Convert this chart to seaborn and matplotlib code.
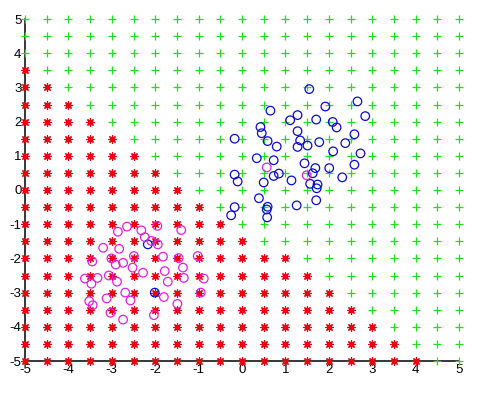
import numpy as np
import pandas as pd
import matplotlib
matplotlib.use("Agg")
import matplotlib.pyplot as plt
import seaborn as sns

# grid of test points, -5..5 in steps of 0.5
grid_vals = np.linspace(-5, 5, 21)
# for each row y (top to bottom), the largest x that was classed "red"
row_y = [5, 4.5, 4, 3.5, 3, 2.5, 2, 1.5, 1, 0.5, 0, -0.5, -1, -1.5, -2, -2.5, -3, -3.5, -4, -4.5, -5]
red_limit = [-5.5, -5.5, -5.5, -5, -4.5, -4, -3.5, -3, -2.5, -2, -1.5, -1, -0.5, 0, 1, 1.5, 2, 2.5, 3, 3.5, 4]

# training samples, class 1 (blue)
blue_x = [1.55, 2.66, 1.92, 0.655, 2.84, 1.28, 1.11, 1.71, 2.09, 2.18, 0.425, 0.455, 1.28, 2.59,
          -0.17, 0.59, 1.34, 1.78, 2.38, 0.80, 1.28, 1.51, 2.10, 2.73, 0.34, 0.73, 1.44, 1.69,
          2.01, 2.59, -0.17, -0.10, 0.73, 0.85, 1.14, 0.50, 1.63, 1.57, 1.74, 1.72, 2.31, 0.39,
          0.59, 0.57, 0.58, 1.26, 1.71, -0.17, -0.25, -2.17, -2.01]
blue_y = [2.95, 2.59, 2.44, 2.32, 2.16, 2.19, 2.04, 2.06, 1.99, 1.83, 1.84, 1.66, 1.72, 1.63,
          1.50, 1.43, 1.45, 1.40, 1.37, 1.27, 1.26, 1.30, 1.13, 1.07, 0.93, 0.87, 0.78, 0.64,
          0.64, 0.74, 0.45, 0.25, 0.41, 0.48, 0.28, 0.22, 0.49, 0.18, 0.16, 0.05, 0.37, -0.24,
          -0.49, -0.57, -0.80, -0.45, -0.30, -0.50, -0.74, -1.59, -3.00]

# training samples, class 2 (magenta)
mag_x = [-2.86, -2.65, -2.32, -1.95, -1.40, -2.24, -2.09, -1.94, -3.20, -2.83, -3.45, -3.01,
         -2.91, -2.74, -2.52, -2.49, -1.82, -1.46, -1.02, -1.36, -2.28, -1.78, -1.71, -1.34,
         -0.88, -3.62, -3.33, -3.47, -3.07, -2.88, -3.52, -3.44, -3.12, -2.69, -2.57, -3.03,
         -2.74, -2.03, -1.80, -1.49, -0.95, 0.57, 1.49]
mag_y = [-1.22, -1.07, -1.18, -1.05, -1.17, -1.38, -1.49, -1.59, -1.69, -1.72, -2.09, -2.00,
         -2.18, -2.13, -2.27, -1.93, -1.95, -1.99, -1.93, -2.27, -2.42, -2.37, -2.68, -2.57,
         -2.59, -2.59, -2.57, -2.74, -2.50, -2.68, -3.25, -3.37, -3.17, -3.00, -3.23, -3.59,
         -3.79, -3.66, -3.13, -3.33, -3.00, 0.66, 0.43]

sns.set_style("white")
plt.rcParams["font.family"] = ["Liberation Sans", "DejaVu Sans"]
plt.rcParams["axes.unicode_minus"] = False

gx, gy = np.meshgrid(grid_vals, row_y)
lim = np.repeat(np.array(red_limit)[:, None], len(grid_vals), axis=1)
grid = pd.DataFrame({"x": gx.ravel(), "y": gy.ravel(), "red": (gx <= lim).ravel()})

fig = plt.figure(figsize=(4.82, 3.96), dpi=100)
ax = fig.add_axes([25 / 482, 1 - 361 / 396, 434 / 482, 342 / 396])

sns.scatterplot(data=grid[~grid["red"]], x="x", y="y", marker="+", s=36,
                color="#1fe01f", linewidth=0.9, ax=ax, clip_on=False, zorder=2)
sns.scatterplot(data=grid[grid["red"]], x="x", y="y", marker=(8, 2, 0), s=28,
                color="#ee0010", linewidth=0.9, ax=ax, clip_on=False, zorder=2)
sns.scatterplot(x=blue_x, y=blue_y, marker="o", s=38, facecolors="none",
                edgecolor="#0a0ad0", linewidth=0.9, ax=ax, zorder=3)
sns.scatterplot(x=mag_x, y=mag_y, marker="o", s=38, facecolors="none",
                edgecolor="#e020e0", linewidth=0.9, ax=ax, zorder=3)

ax.set_xlim(-5, 5)
ax.set_ylim(-5, 5)
ax.set_xticks(range(-5, 6))
ax.set_yticks(range(-5, 6))
ax.set_xlabel("")
ax.set_ylabel("")
sns.despine(ax=ax)
for side in ["left", "bottom"]:
    ax.spines[side].set_color("black")
    ax.spines[side].set_linewidth(1.1)
    ax.spines[side].set_zorder(1)
ax.tick_params(direction="in", length=3, width=0.8, labelsize=9.5, colors="black", pad=2.5)

fig.savefig("out.png", dpi=100)
